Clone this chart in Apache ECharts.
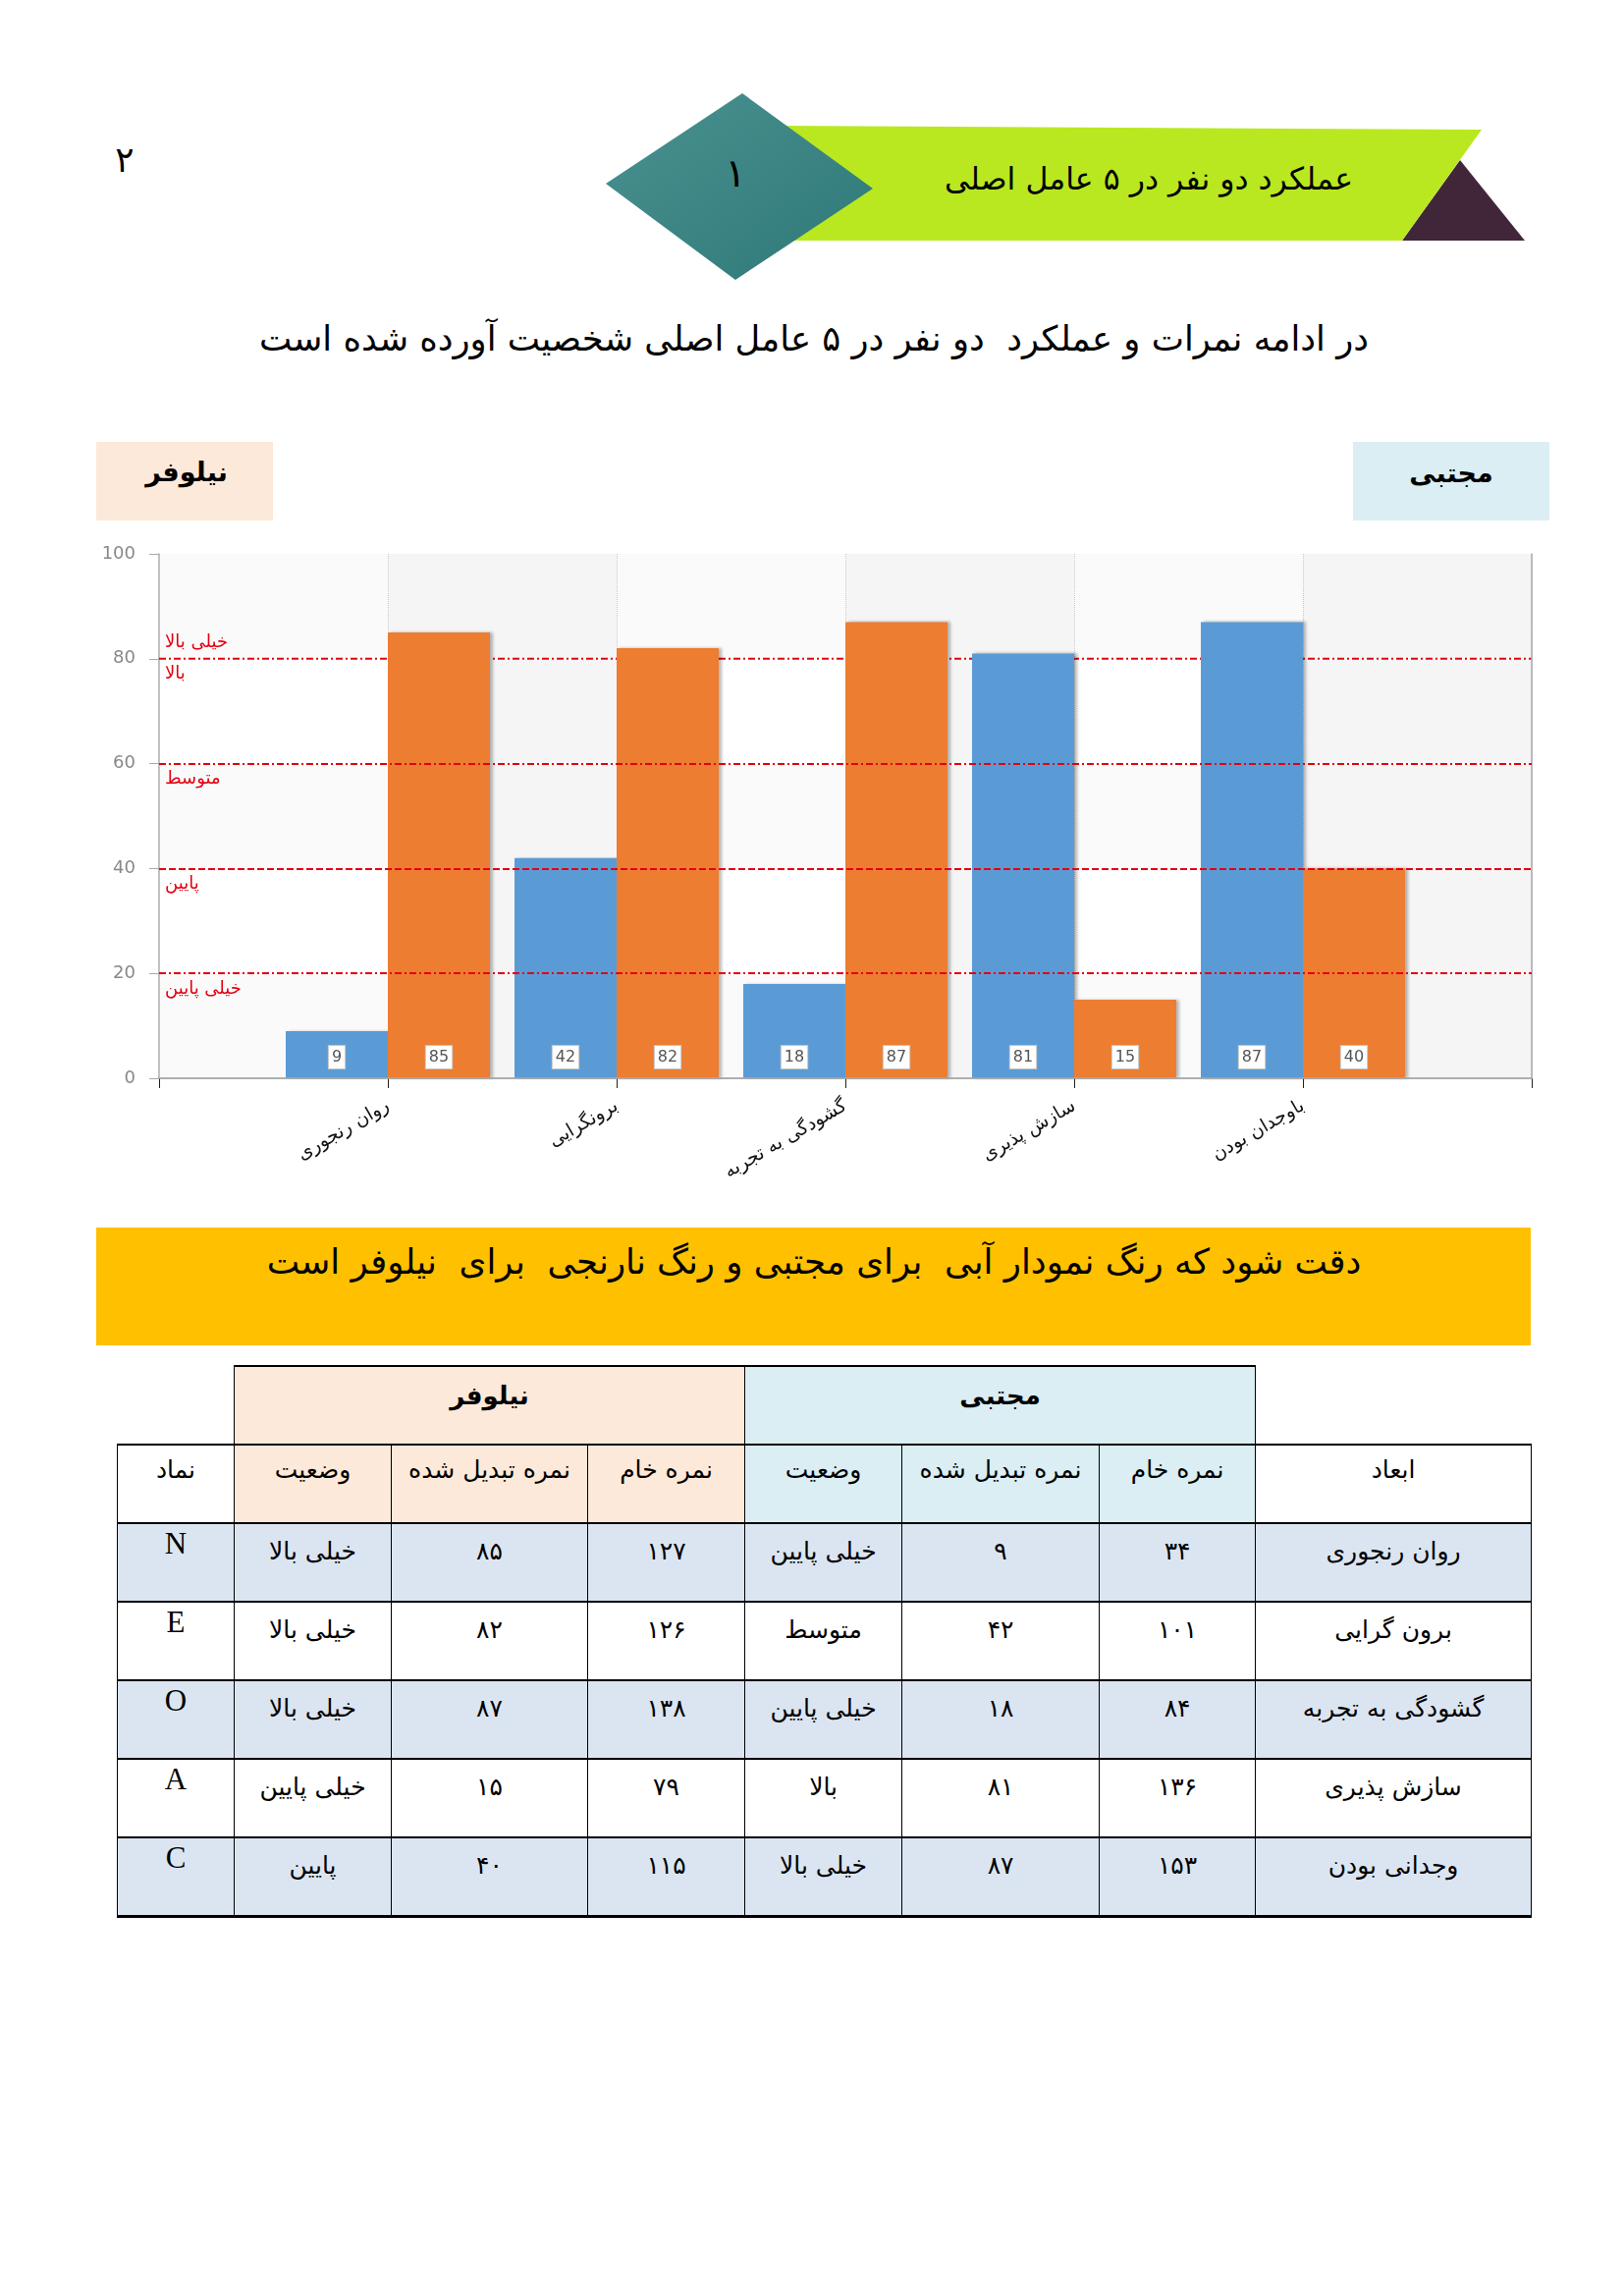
<!DOCTYPE html>
<html lang="fa">
<head>
<meta charset="utf-8">
<script src="https://cdn.jsdelivr.net/npm/echarts@6/dist/echarts.min.js"></script>
<style>
html,body{margin:0;padding:0;background:#fff;}
#page{position:relative;width:1654px;height:2338px;overflow:hidden;font-family:"DejaVu Sans",sans-serif;color:#000;}
.abs{position:absolute;}
.ctr{position:absolute;transform:translate(-50%,-50%);white-space:pre;line-height:1;}
.box{position:absolute;}
#chart{position:absolute;left:0;top:500px;width:1654px;height:740px;}
#tbl{position:absolute;left:119px;top:1390px;width:1440px;border-collapse:collapse;table-layout:fixed;direction:rtl;font-family:"DejaVu Sans",sans-serif;}
#tbl td{border-left:1.5px solid #000;border-right:1.5px solid #000;border-top:2px solid #000;border-bottom:2px solid #000;text-align:center;vertical-align:top;height:80px;padding:0;box-sizing:border-box;font-size:25px;line-height:1.3;}
#tbl tr.r1 td{padding-top:13px;font-weight:bold;font-size:26px;}
#tbl tr.r2 td{padding-top:9px;}
#tbl tr.d td{padding-top:12px;}
#tbl tr.d td.lat{font-family:"Liberation Serif",serif;font-size:31px;padding-top:0px;}
#tbl tr:last-child td{border-bottom:3px solid #000;}
</style>
</head>
<body>
<div id="page">
  <svg class="abs" style="left:0;top:0" width="1654" height="320">
    <defs>
      <linearGradient id="dg" x1="0" y1="0" x2="1" y2="1">
        <stop offset="0" stop-color="#4a9290"/>
        <stop offset="1" stop-color="#2e7878"/>
      </linearGradient>
    </defs>
    <polygon points="1487,163 1553,245 1428,245" fill="#41263a"/>
    <polygon points="790,128 1509,132 1428,245 790,245" fill="#b9e821"/>
    <polygon points="617,187 756,95 889,192 749,285" fill="url(#dg)"/>
  </svg>
  <div class="ctr" style="left:127px;top:163px;font-size:36px;">۲</div>
  <div class="ctr" style="left:749px;top:176px;font-size:40px;">۱</div>
  <div class="ctr fit" data-w="416" style="left:1170px;top:183px;font-size:30px;">عملکرد دو نفر در ۵ عامل اصلی</div>
  <div class="ctr fit" data-w="1130" style="left:829px;top:345px;font-size:34px;">در ادامه نمرات و عملکرد  دو نفر در ۵ عامل اصلی شخصیت آورده شده است</div>

  <div class="box" style="left:98px;top:450px;width:180px;height:80px;background:#fde9d9;"></div>
  <div class="ctr" style="left:190px;top:480px;font-size:27px;font-weight:bold;">نیلوفر</div>
  <div class="box" style="left:1378px;top:450px;width:200px;height:80px;background:#daeef3;"></div>
  <div class="ctr" style="left:1478px;top:481px;font-size:27px;font-weight:bold;">مجتبی</div>

  <div id="chart"></div>

  <div class="box" style="left:98px;top:1250px;width:1461px;height:120px;background:#ffc000;"></div>
  <div class="ctr fit" data-w="1115" style="left:829px;top:1285px;font-size:34px;">دقت شود که رنگ نمودار آبی  برای مجتبی و رنگ نارنجی  برای  نیلوفر است</div>

  <table id="tbl"></table>
</div>
<script>
// ---------- chart data ----------
const categories = ['روان رنجوری', 'برونگرایی', 'گشودگی به تجربه', 'سازش پذیری', 'باوجدان بودن'];
const mojtabaScores = [9, 42, 18, 81, 87];
const niloofarScores = [85, 82, 87, 15, 40];
const yTickValues = [0, 20, 40, 60, 80, 100];
const levelThresholds = [80, 60, 40, 20];
const levelNamesAbove = ['خیلی بالا'];
const levelNamesBelow = ['بالا', 'متوسط', 'پایین', 'خیلی پایین'];

// ---------- table data ----------
const dimensions = ['روان رنجوری', 'برون گرایی', 'گشودگی به تجربه', 'سازش پذیری', 'وجدانی بودن'];
const symbols = ['N', 'E', 'O', 'A', 'C'];
const mojtabaRaw = [34, 101, 84, 136, 153];
const mojtabaStatus = ['خیلی پایین', 'متوسط', 'خیلی پایین', 'بالا', 'خیلی بالا'];
const niloofarRaw = [127, 126, 138, 79, 115];
const niloofarStatus = ['خیلی بالا', 'خیلی بالا', 'خیلی بالا', 'خیلی پایین', 'پایین'];

const RED = '#e3000f';
const FONT = 'DejaVu Sans';
const DASHDOT = [7, 3, 2, 3];

const padCats = [''].concat(categories, ['']);
const pad = arr => [null].concat(arr, [null]);

const chart = echarts.init(document.getElementById('chart'), null, {renderer: 'canvas'});
const labelStyle = {
  show: true, position: 'insideBottom', distance: 10,
  backgroundColor: '#fff', borderColor: '#c4c4c4', borderWidth: 1,
  padding: [4, 3, 3, 3], color: '#555', fontSize: 16, fontFamily: FONT
};
const shadow = {shadowColor: 'rgba(0,0,0,0.28)', shadowBlur: 3, shadowOffsetX: 3, shadowOffsetY: 0};

const mlData = [];
mlData.push({yAxis: levelThresholds[0], lineStyle: {color: 'rgba(0,0,0,0)'},
  label: {formatter: levelNamesAbove[0], position: 'insideStartTop'}});
levelThresholds.forEach((v, i) => {
  const item = {yAxis: v, label: {formatter: levelNamesBelow[i], position: 'insideStartBottom'}};
  if (i === 0) item.lineStyle = {color: 'rgba(0,0,0,0)'};
  if (v === 40) item.lineStyle = {type: [7, 3]};
  mlData.push(item);
});

const option = {
  animation: false,
  grid: {left: 162, right: 94, top: 64, bottom: 142},
  xAxis: [{
    type: 'category', data: padCats, boundaryGap: false, z: 1,
    axisLine: {lineStyle: {color: '#aaaaaa', width: 1.5}},
    axisTick: {show: true, length: 10, interval: 0, lineStyle: {color: '#222'}},
    axisLabel: {interval: 0, rotate: 30, margin: 27, fontSize: 19, color: '#111', fontFamily: FONT},
    splitLine: {show: true, interval: 0, lineStyle: {color: '#c9c9c9', type: 'dotted'}},
    splitArea: {show: true, interval: 0, areaStyle: {color: ['rgba(255,255,255,0)', '#f5f5f5']}}
  }, {
    type: 'category', data: padCats, boundaryGap: false, position: 'top', z: 3,
    axisLine: {lineStyle: {color: '#aaaaaa', width: 1.5}},
    axisTick: {show: false}, axisLabel: {show: false}, splitLine: {show: false}
  }],
  yAxis: [{
    type: 'value', min: yTickValues[0], max: yTickValues[yTickValues.length - 1], interval: 20, z: 0,
    axisLine: {show: true, lineStyle: {color: '#aaaaaa', width: 1.5}},
    axisTick: {show: true, length: 10, lineStyle: {color: '#aaaaaa'}},
    axisLabel: {color: '#888', fontSize: 18, margin: 24, fontFamily: FONT},
    splitLine: {show: false},
    splitArea: {show: true, areaStyle: {color: ['#fafafa', '#ffffff']}}
  }, {
    type: 'value', min: 0, max: 100, interval: 20, position: 'right', z: 3,
    axisLine: {show: true, lineStyle: {color: '#aaaaaa', width: 1.5}},
    axisTick: {show: false}, axisLabel: {show: false}, splitLine: {show: false}
  }],
  series: [{
    name: 'مجتبی', type: 'bar', data: pad(mojtabaScores), barWidth: 104, barGap: '0%', z: 2,
    itemStyle: Object.assign({color: '#5b9bd5'}, shadow),
    label: labelStyle,
    markLine: {
      silent: true, symbol: ['none', 'none'], animation: false,
      lineStyle: {color: RED, width: 2, type: DASHDOT},
      label: {color: RED, fontSize: 18, fontFamily: FONT, distance: [6, 7]},
      emphasis: {disabled: true},
      data: mlData
    }
  }, {
    name: 'نیلوفر', type: 'bar', data: pad(niloofarScores), barWidth: 104, barGap: '0%', z: 2,
    itemStyle: Object.assign({color: '#ed7d31'}, shadow),
    label: labelStyle
  }, {
    name: 'level80', type: 'line', silent: true, z: 1.5, symbol: 'none',
    data: padCats.map(() => levelThresholds[0]),
    lineStyle: {color: RED, width: 2, type: DASHDOT}
  }]
};
chart.setOption(option);

// ---------- table ----------
const fa = n => String(n).replace(/\d/g, d => '۰۱۲۳۴۵۶۷۸۹'[d]);
const tbl = document.getElementById('tbl');
const widths = [281, 159, 201, 160, 160, 200, 160, 119];
let html = '<colgroup>' + widths.map(w => '<col style="width:' + w + 'px">').join('') + '</colgroup>';
const PEACH = '#fde9d9', BLUE = '#daeef3', ROW = '#dbe5f1';
html += '<tr class="r1">' +
  '<td style="border-top:none;border-right:none;"></td>' +
  '<td colspan="3" style="background:' + BLUE + '">مجتبی</td>' +
  '<td colspan="3" style="background:' + PEACH + '">نیلوفر</td>' +
  '<td style="border-top:none;border-left:none;"></td></tr>';
const hdr = ['ابعاد', 'نمره خام', 'نمره تبدیل شده', 'وضعیت', 'نمره خام', 'نمره تبدیل شده', 'وضعیت', 'نماد'];
const hdrBg = ['#fff', BLUE, BLUE, BLUE, PEACH, PEACH, PEACH, '#fff'];
html += '<tr class="r2">' + hdr.map((h, i) => '<td style="background:' + hdrBg[i] + '">' + h + '</td>').join('') + '</tr>';
dimensions.forEach((d, i) => {
  const bg = i % 2 === 0 ? ROW : '#fff';
  const cells = [d, fa(mojtabaRaw[i]), fa(mojtabaScores[i]), mojtabaStatus[i],
                 fa(niloofarRaw[i]), fa(niloofarScores[i]), niloofarStatus[i]];
  html += '<tr class="d" style="background:' + bg + '">' +
    cells.map(c => '<td>' + c + '</td>').join('') +
    '<td class="lat">' + symbols[i] + '</td></tr>';
});
tbl.innerHTML = html;

// fit headline widths
document.querySelectorAll('.fit').forEach(el => {
  const target = +el.dataset.w;
  const w = el.getBoundingClientRect().width;
  if (w > 0) {
    const fs = parseFloat(getComputedStyle(el).fontSize);
    el.style.fontSize = (fs * target / w).toFixed(2) + 'px';
  }
});
</script>
</body>
</html>
